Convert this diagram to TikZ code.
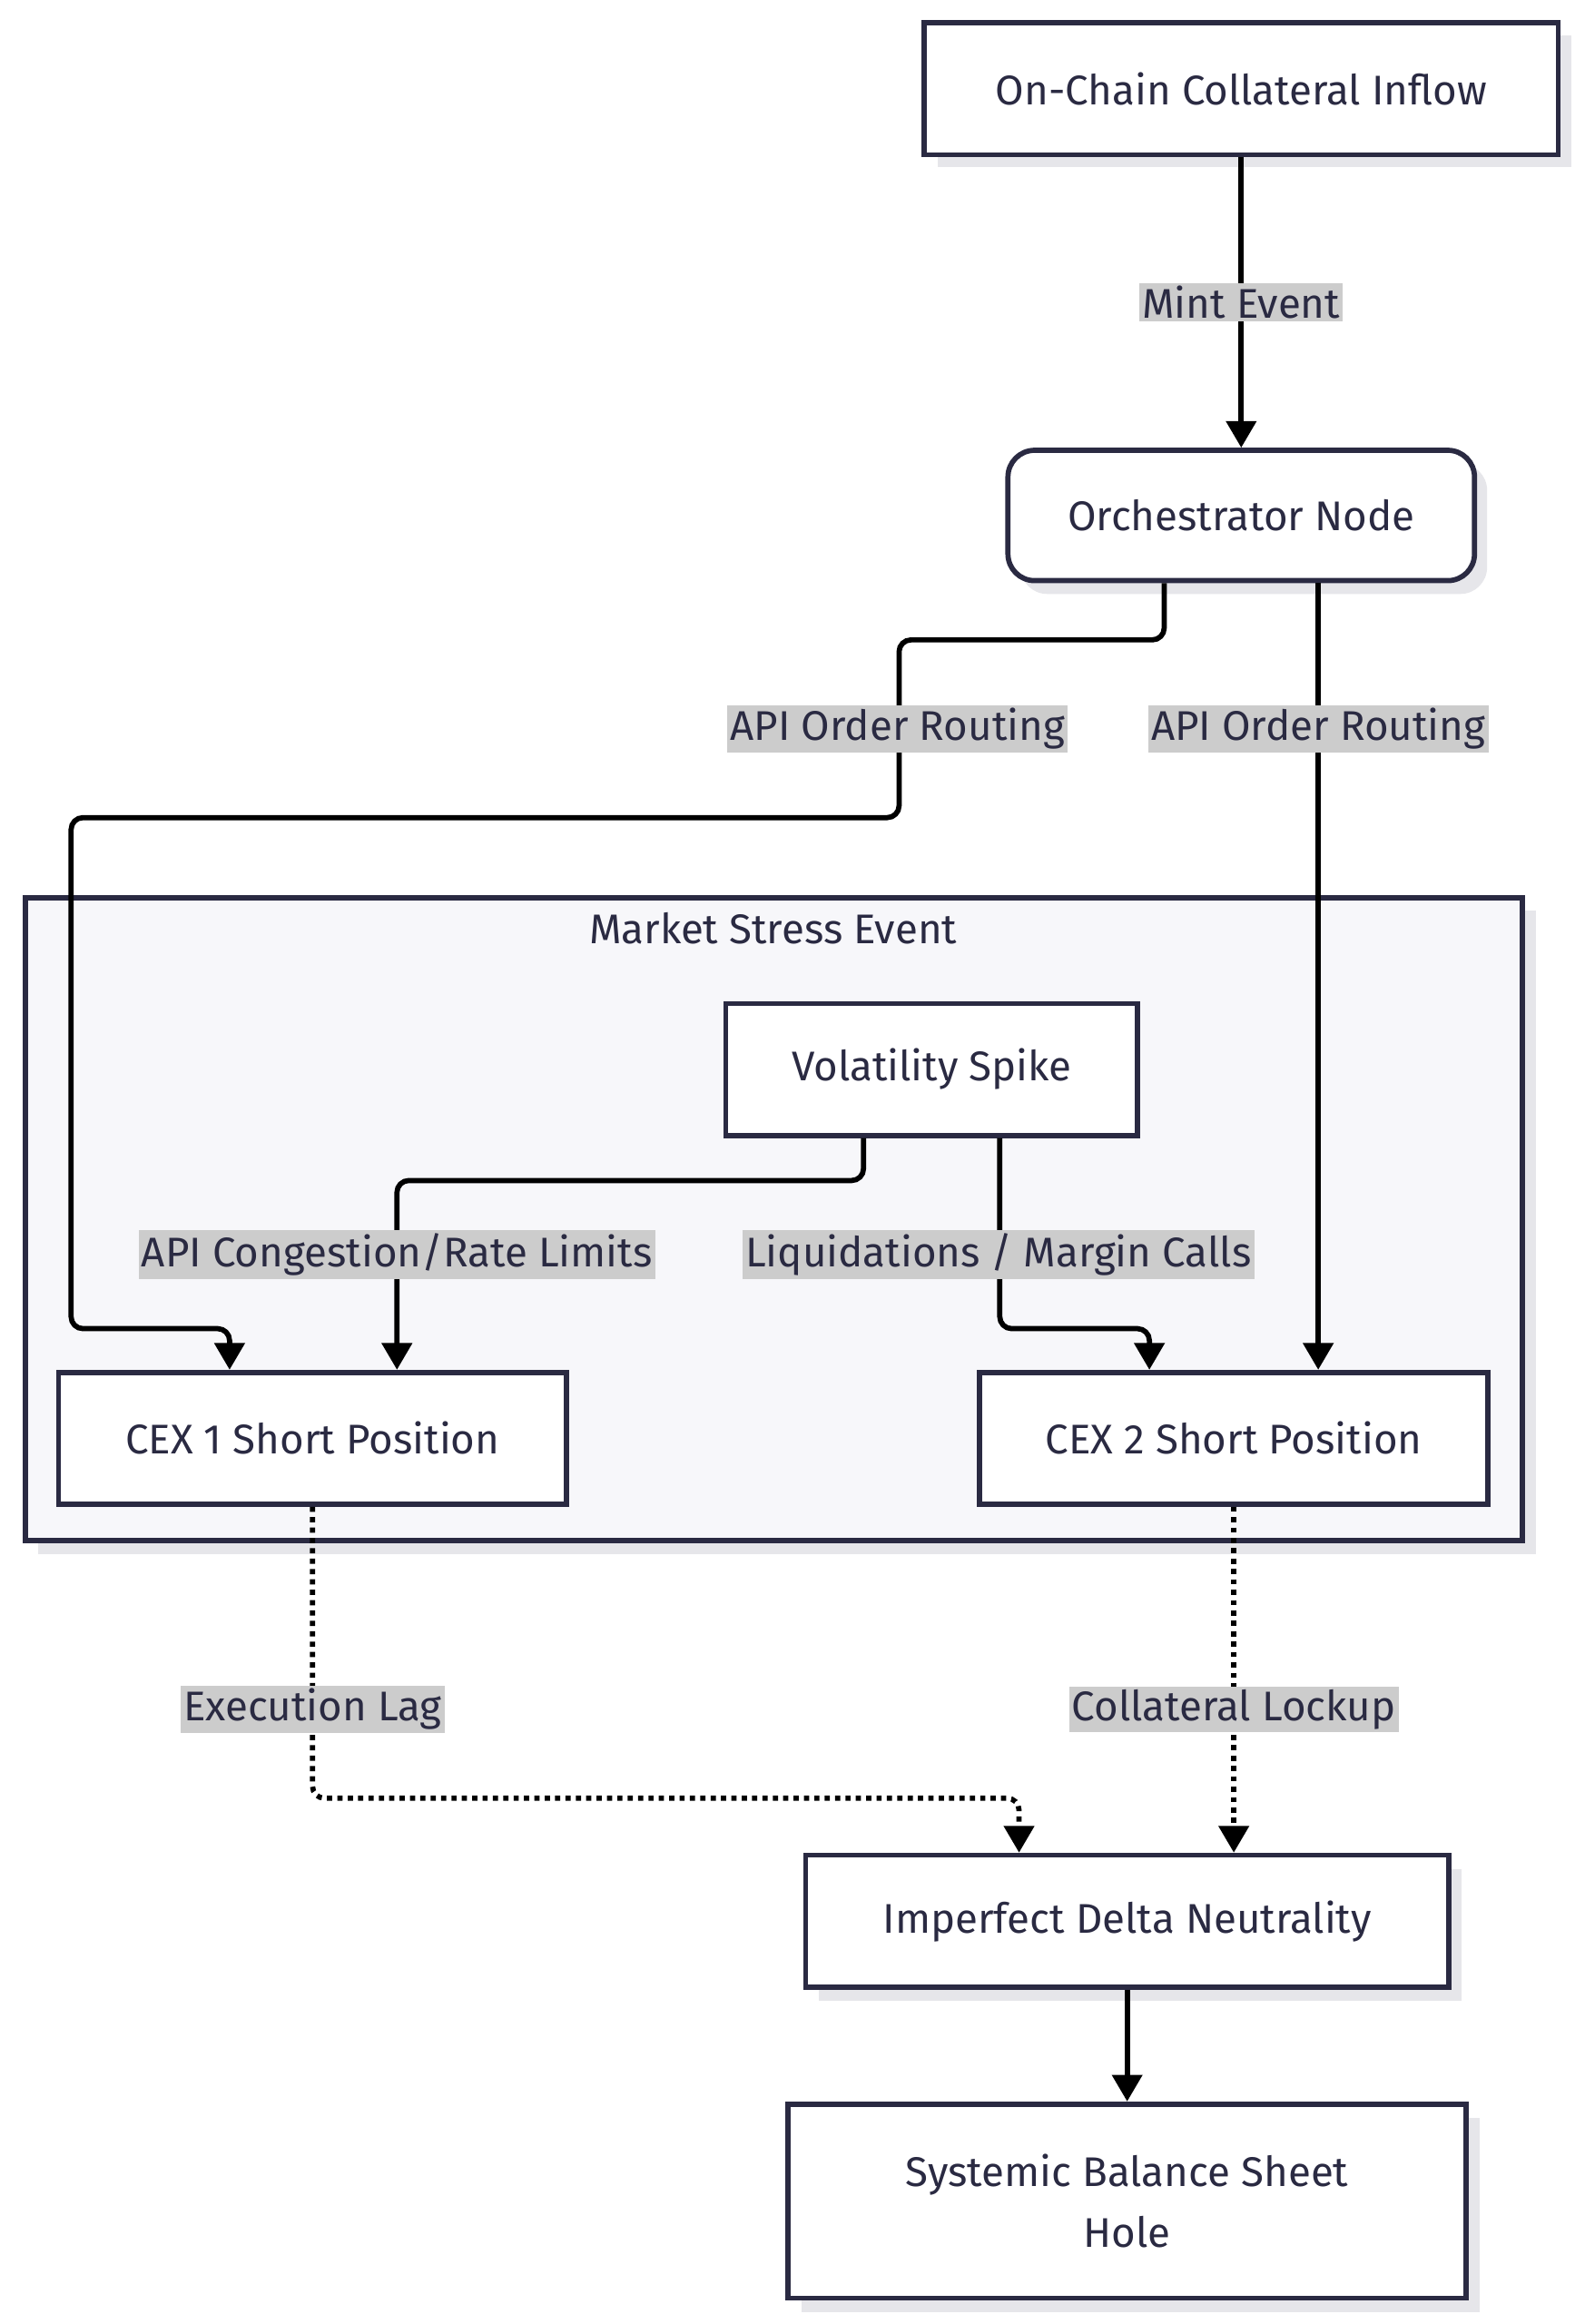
\documentclass[tikz,border=0pt]{standalone}
\usepackage{fontspec}
\setmainfont{Fira Sans}
\usetikzlibrary{arrows.meta}
\definecolor{bd}{HTML}{2A2A42}
\definecolor{lb}{HTML}{CCCCCC}
\definecolor{sh}{HTML}{E6E6EA}
\definecolor{cl}{HTML}{F7F7FA}
\begin{document}
\begin{tikzpicture}[x=1pt,y=-1pt,
  font=\fontsize{28}{41}\selectfont,
  box/.style={draw=bd,line width=3.5pt,fill=white,text=bd,align=center},
  lab/.style={fill=lb,text=bd,inner sep=2pt},
  edge/.style={line width=3.5pt,-{Triangle[length=18pt,width=20pt]},rounded corners=8pt},
  dot/.style={edge,dash pattern=on 3.5pt off 3.5pt}]
\useasboundingbox (0,0) rectangle (1070,1569);
% shadows
\foreach \a/\b/\c/\d in {624/15/1052/104,490/678/768/767,40/927/383/1016,662/927/1005/1016,544/1253/978/1342,532/1421/990/1552,17/606/1028/1040}
  \fill[sh] (\a+9,\b+9) rectangle (\c+9,\d+9);
\fill[sh,rounded corners=18pt] (689,313) rectangle (1004,401);
\draw[bd,line width=3.5pt,fill=cl] (17,606) rectangle (1028,1040);
\node[text=bd] (title) at (522,627) {Market Stress Event};
\node[box,minimum width=428pt,minimum height=89pt] (inflow) at (838,60) {On-Chain Collateral Inflow};
\node[box,rounded corners=18pt,minimum width=315pt,minimum height=88pt] (orch) at (838,348) {Orchestrator Node};
\node[box,minimum width=278pt,minimum height=89pt] (vol) at (629,722) {Volatility Spike};
\node[box,minimum width=343pt,minimum height=89pt] (c1) at (211,971) {CEX 1 Short Position};
\node[box,minimum width=343pt,minimum height=89pt] (c2) at (833,971) {CEX 2 Short Position};
\node[box,minimum width=434pt,minimum height=89pt] (imp) at (761,1297) {Imperfect Delta Neutrality};
\node[box,minimum width=458pt,minimum height=131pt] (sys) at (761,1486) {Systemic Balance Sheet\\Hole};
% edges
\draw[edge] (inflow) -- (orch);
\node[lab] at (838,204) {Mint Event};
\draw[edge] (orch.south -| 786,0) -- (786,432) -- (607,432) -- (607,552) -- (48,552) -- (48,897) -- (155,897) -- (c1.north -| 155,0);
\node[lab] at (606,492) {API Order Routing};
\draw[edge] (orch.south -| 890,0) -- (c2.north -| 890,0);
\node[lab] at (890,492) {API Order Routing};
\draw[edge] (vol.south -| 583,0) -- (583,797) -- (268,797) -- (c1.north -| 268,0);
\node[lab] at (268,847) {API Congestion/Rate Limits};
\draw[edge] (vol.south -| 675,0) -- (675,897) -- (776,897) -- (c2.north -| 776,0);
\node[lab] at (674,847) {Liquidations / Margin Calls};
\draw[dot] (c1.south) -- (211,1214) -- (688,1214) -- (imp.north -| 688,0);
\node[lab] at (211,1154) {Execution Lag};
\draw[dot] (c2.south) -- (imp.north -| 833,0);
\node[lab] at (833,1154) {Collateral Lockup};
\draw[edge] (imp) -- (sys);
\end{tikzpicture}
\end{document}
